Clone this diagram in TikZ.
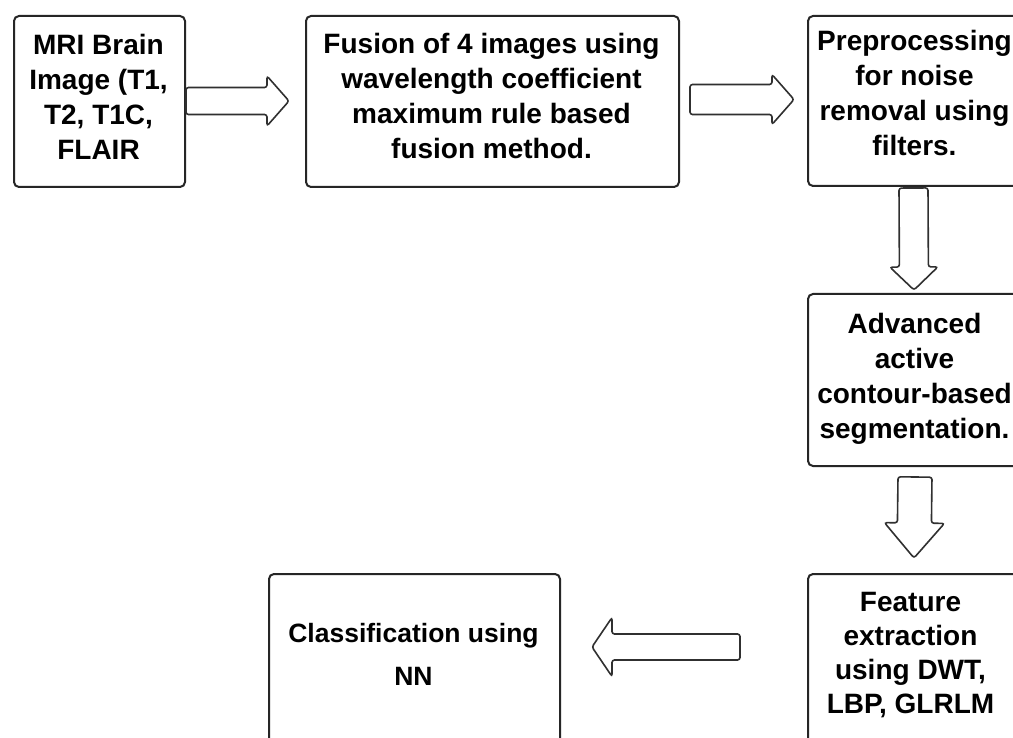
\documentclass[tikz,border=0pt]{standalone}
\usepackage{fontspec}
\setmainfont{Liberation Sans}
\usetikzlibrary{calc}
\definecolor{boxc}{HTML}{262626}
\definecolor{arrc}{HTML}{303030}
\newcommand\blockarrow[5]{%
  \draw[blk] (#1)
    -- ($(#1)!#3!90:(#2)$)
    -- ($($(#2)!#5!(#1)$)!#3!-90:(#1)$)
    -- ($($(#2)!#5!(#1)$)!#4!-90:(#1)$)
    -- (#2)
    -- ($($(#2)!#5!(#1)$)!#4!90:(#1)$)
    -- ($($(#2)!#5!(#1)$)!#3!90:(#1)$)
    -- ($(#1)!#3!-90:(#2)$)
    -- cycle;}
\begin{document}
\begin{tikzpicture}[x=1pt,y=-1pt,
  box/.style={draw=boxc, line width=2pt, rounded corners=5pt, inner sep=0pt, anchor=north west},
  lbl/.style={inner sep=0pt, align=center, text=black, font=\bfseries\fontsize{28}{35}\selectfont},
  blk/.style={draw=arrc, line width=1.6pt, rounded corners=2.5pt, fill=white}]
\useasboundingbox (0,0) rectangle (1013,738);
\clip (0,0) rectangle (1013,738);
\fill[white] (0,0) rectangle (1013,738);
% boxes
\node[box, minimum width=171pt, minimum height=171pt] (b1) at (13,15) {};
\node[box, minimum width=373pt, minimum height=171pt] (b2) at (305,15) {};
\node[box, minimum width=220pt, minimum height=170pt] (b3) at (807,15) {};
\node[box, minimum width=220pt, minimum height=172pt] (b4) at (807,293) {};
\node[box, minimum width=220pt, minimum height=185pt] (b5) at (807,573) {};
\node[box, minimum width=291pt, minimum height=185pt] (b6) at (268,573) {};
% labels
\node[lbl] (t1) at (98.5,100) {\strut MRI Brain\\\strut Image (T1,\\\strut T2, T1C,\\\strut FLAIR};
\node[lbl] (t2) at (491.5,99.5) {\strut Fusion of 4 images using\\\strut wavelength coefficient\\\strut maximum rule based\\\strut fusion method.};
\node[lbl] (t3) at (914.5,96) {\strut Preprocessing\\\strut for noise\\\strut removal using\\\strut filters.};
\node[lbl] (t4) at (914.5,378.5) {\strut Advanced\\\strut active\\\strut contour-based\\\strut segmentation.};
\node[lbl, font=\bfseries\fontsize{28}{34}\selectfont] (t5) at (910.5,656) {\strut Feature\\\strut extraction\\\strut using DWT,\\\strut LBP, GLRLM};
\node[lbl, font=\bfseries\fontsize{26.5}{43}\selectfont] (t6) at (413.5,655) {\strut Classification using\\\strut NN};
% arrow end points
\coordinate (a1s) at (186,101);
\coordinate (a1e) at (289,101);
\coordinate (a2s) at (690,99.5);
\coordinate (a2e) at (794,99.5);
\coordinate (a3s) at (913.5,188);
\coordinate (a3e) at (914,290);
\coordinate (a4s) at (915,477);
\coordinate (a4e) at (914,558);
\coordinate (a5s) at (740,647);
\coordinate (a5e) at (592,647);
\blockarrow{a1s}{a1e}{13.5pt}{25pt}{22pt}
\blockarrow{a2s}{a2e}{15pt}{25pt}{22pt}
\blockarrow{a3s}{a3e}{14.5pt}{24pt}{23pt}
\blockarrow{a4s}{a4e}{17pt}{30pt}{35pt}
\blockarrow{a5s}{a5e}{13pt}{29.5pt}{20pt}
\end{tikzpicture}
\end{document}
